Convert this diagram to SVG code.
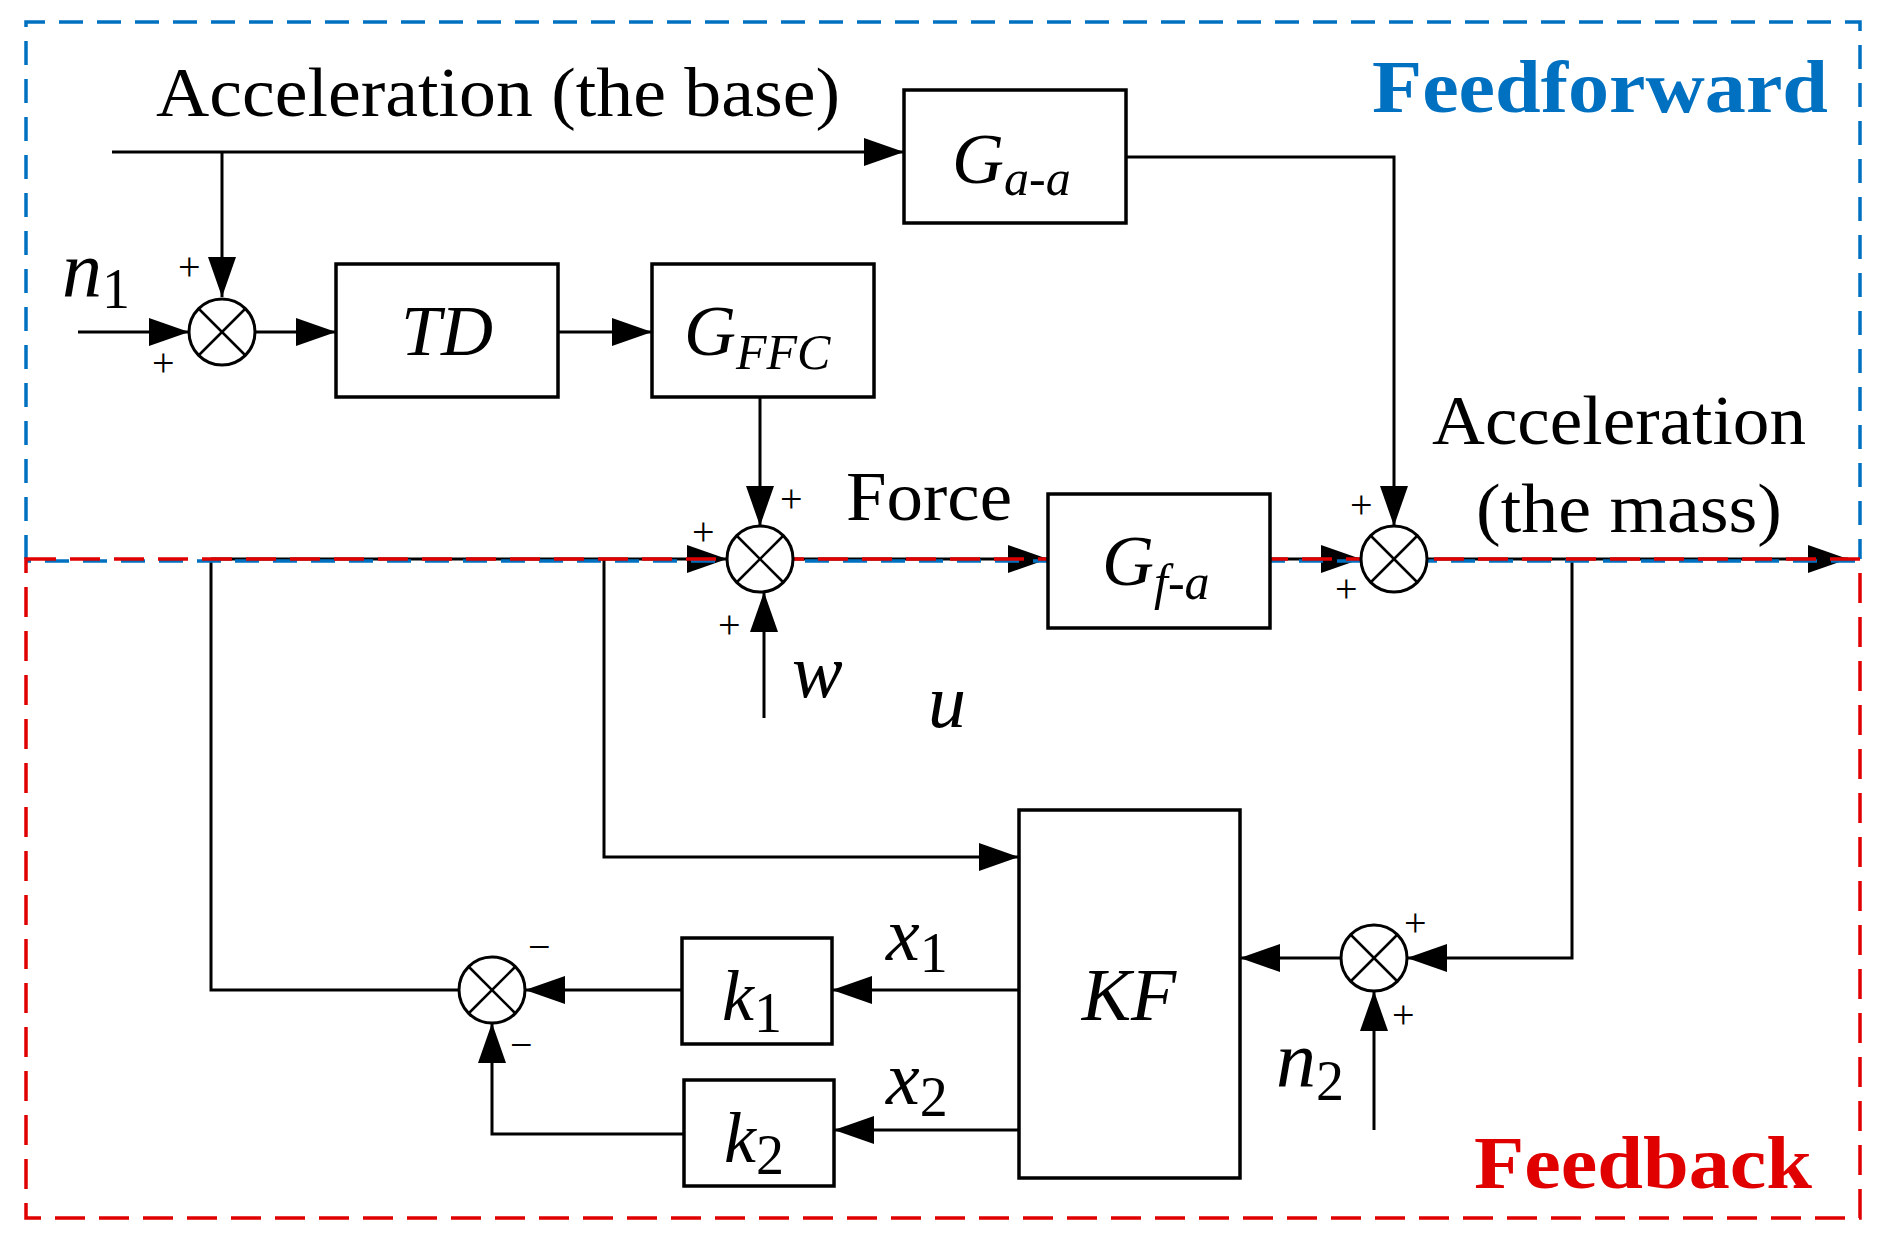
<svg xmlns="http://www.w3.org/2000/svg" width="1882" height="1236" viewBox="0 0 1882 1236">
<defs>
<marker id="ah" markerUnits="userSpaceOnUse" markerWidth="44" markerHeight="32" refX="40" refY="14" orient="auto"><path d="M0,0 L40,14 L0,28 Z" fill="#000"/></marker>
<style>
.ln{stroke:#000;stroke-width:3;fill:none}
.bx{stroke:#000;stroke-width:3.5;fill:#fff}
.t{font-family:"Liberation Serif","Times New Roman",serif;fill:#000}
.i{font-style:italic}
.s{font-family:"Liberation Serif",serif;font-size:40px;fill:#000}
.sum circle{stroke:#000;stroke-width:3;fill:#fff}
.sum line{stroke:#000;stroke-width:2.5}
</style>
</defs>
<g id="connectors">
<path class="ln" d="M112,152 H904" marker-end="url(#ah)"/>
<path class="ln" d="M222,152 V297" marker-end="url(#ah)"/>
<path class="ln" d="M78,332 H189" marker-end="url(#ah)"/>
<path class="ln" d="M255,332 H336" marker-end="url(#ah)"/>
<path class="ln" d="M558,332 H652" marker-end="url(#ah)"/>
<path class="ln" d="M760,397 V526" marker-end="url(#ah)"/>
<path class="ln" d="M1126,157 H1394 V526" marker-end="url(#ah)"/>
<path class="ln" d="M211,559 H727" marker-end="url(#ah)"/>
<path class="ln" d="M793,559 H1048" marker-end="url(#ah)"/>
<path class="ln" d="M1270,559 H1361" marker-end="url(#ah)"/>
<path class="ln" d="M1427,559 H1848" marker-end="url(#ah)"/>
<path class="ln" d="M764,718 V592" marker-end="url(#ah)"/>
<path class="ln" d="M604,559 V857 H1019" marker-end="url(#ah)"/>
<path class="ln" d="M1572,559 V958 H1407" marker-end="url(#ah)"/>
<path class="ln" d="M1374,1130 V991" marker-end="url(#ah)"/>
<path class="ln" d="M1341,958 H1240" marker-end="url(#ah)"/>
<path class="ln" d="M1019,990 H832" marker-end="url(#ah)"/>
<path class="ln" d="M682,990 H525" marker-end="url(#ah)"/>
<path class="ln" d="M459,990 H211 V559"/>
<path class="ln" d="M1019,1130 H834" marker-end="url(#ah)"/>
<path class="ln" d="M684,1134 H492 V1023" marker-end="url(#ah)"/>
</g>
<g id="regions">
<path d="M26,559 V22 H1860 V559" fill="none" stroke="#0070c0" stroke-width="3.5" stroke-dasharray="24,14"/>
<path d="M26,561 H1860" fill="none" stroke="#0070c0" stroke-width="3.5" stroke-dasharray="24,14" stroke-dashoffset="19"/>
<path d="M26,559 H1860 V1218 H26 Z" fill="none" stroke="#e00000" stroke-width="3.5" stroke-dasharray="30,14"/>
<text class="t" x="1372" y="112" font-size="74" font-weight="bold" fill="#0070c0" style="fill:#0070c0" textLength="456" lengthAdjust="spacingAndGlyphs">Feedforward</text>
<text class="t" x="1474" y="1188" font-size="74" font-weight="bold" style="fill:#e00000" textLength="338" lengthAdjust="spacingAndGlyphs">Feedback</text>
</g>
<g id="sum1" class="sum"><circle cx="222" cy="332" r="33"/><line x1="199" y1="309" x2="245" y2="355"/><line x1="245" y1="309" x2="199" y2="355"/></g>
<g id="sum2" class="sum"><circle cx="760" cy="559" r="33"/><line x1="737" y1="536" x2="783" y2="582"/><line x1="783" y1="536" x2="737" y2="582"/></g>
<g id="sum3" class="sum"><circle cx="1394" cy="559" r="33"/><line x1="1371" y1="536" x2="1417" y2="582"/><line x1="1417" y1="536" x2="1371" y2="582"/></g>
<g id="sum4" class="sum"><circle cx="1374" cy="958" r="33"/><line x1="1351" y1="935" x2="1397" y2="981"/><line x1="1397" y1="935" x2="1351" y2="981"/></g>
<g id="sum5" class="sum"><circle cx="492" cy="990" r="33"/><line x1="469" y1="967" x2="515" y2="1013"/><line x1="515" y1="967" x2="469" y2="1013"/></g>
<g id="Gaa"><rect class="bx" x="904" y="90" width="222" height="133"/><text class="t i" x="952" y="183" font-size="72">G<tspan font-size="50" dy="12">a-a</tspan></text></g>
<g id="TD"><rect class="bx" x="336" y="264" width="222" height="133"/><text class="t i" x="447" y="355" font-size="72" text-anchor="middle">TD</text></g>
<g id="GFFC"><rect class="bx" x="652" y="264" width="222" height="133"/><text class="t i" x="684" y="355" font-size="72">G<tspan font-size="50" dy="14">FFC</tspan></text></g>
<g id="Gfa"><rect class="bx" x="1048" y="494" width="222" height="134"/><text class="t i" x="1102" y="585" font-size="72">G<tspan font-size="50" dy="14">f-a</tspan></text></g>
<g id="KF"><rect class="bx" x="1019" y="810" width="221" height="368"/><text class="t i" x="1129" y="1020" font-size="74" text-anchor="middle">KF</text></g>
<g id="k1"><rect class="bx" x="682" y="938" width="150" height="106"/><text class="t i" x="722" y="1020" font-size="72">k<tspan font-style="normal" font-size="56" dy="12">1</tspan></text></g>
<g id="k2"><rect class="bx" x="684" y="1080" width="150" height="106"/><text class="t i" x="724" y="1162" font-size="72">k<tspan font-style="normal" font-size="56" dy="12">2</tspan></text></g>
<g id="labels">
<text class="t" x="156" y="116" font-size="70" textLength="684" lengthAdjust="spacingAndGlyphs">Acceleration (the base)</text>
<text class="t" x="846" y="520" font-size="70" textLength="166" lengthAdjust="spacingAndGlyphs">Force</text>
<text class="t" x="1432" y="444" font-size="70" textLength="374" lengthAdjust="spacingAndGlyphs">Acceleration</text>
<text class="t" x="1476" y="532" font-size="70" textLength="306" lengthAdjust="spacingAndGlyphs">(the mass)</text>
<text class="t i" x="62" y="296" font-size="80">n<tspan font-style="normal" font-size="56" dy="12">1</tspan></text>
<text class="t i" x="1276" y="1086" font-size="80">n<tspan font-style="normal" font-size="56" dy="14">2</tspan></text>
<text class="t i" x="792" y="697" font-size="76">w</text>
<text class="t i" x="928" y="727" font-size="76">u</text>
<text class="t i" x="886" y="960" font-size="76">x<tspan font-style="normal" font-size="56" dy="12">1</tspan></text>
<text class="t i" x="886" y="1104" font-size="76">x<tspan font-style="normal" font-size="56" dy="12">2</tspan></text>
<text class="s" x="178" y="280">+</text>
<text class="s" x="152" y="376">+</text>
<text class="s" x="780" y="512">+</text>
<text class="s" x="692" y="545">+</text>
<text class="s" x="718" y="638">+</text>
<text class="s" x="1350" y="518">+</text>
<text class="s" x="1335" y="602">+</text>
<text class="s" x="1404" y="936">+</text>
<text class="s" x="1392" y="1028">+</text>
<text class="s" x="528" y="960">−</text>
<text class="s" x="510" y="1058">−</text>
</g>
</svg>
